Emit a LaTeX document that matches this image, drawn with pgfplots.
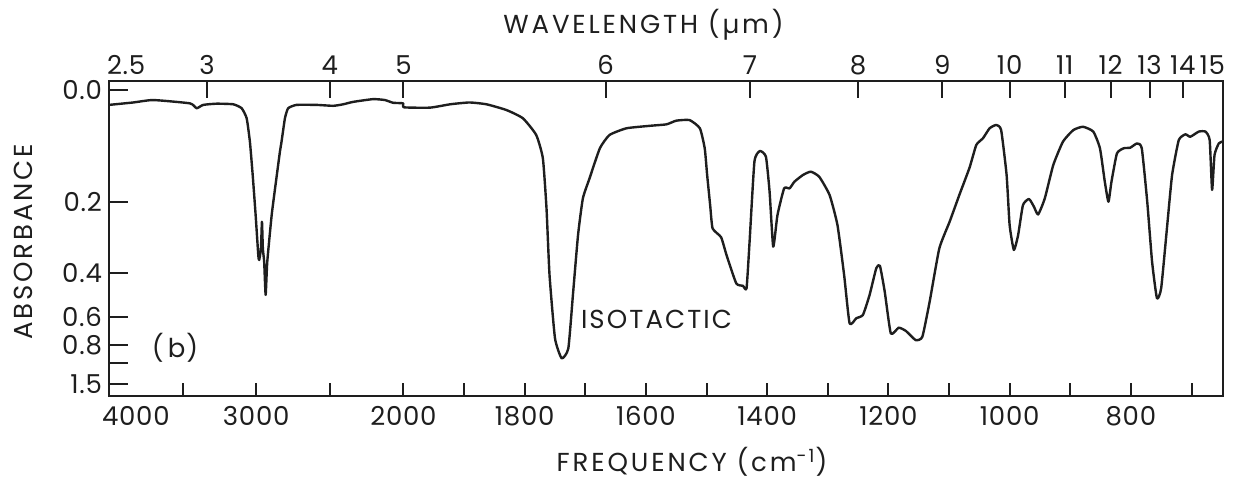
\documentclass[border=0pt]{standalone}
\usepackage{pgfplots}
\pgfplotsset{compat=1.18}
\usepackage{pgfplotstable}
\usepackage{fontspec}
\setmainfont{Poppins}[LetterSpace=3]
\newfontfamily\widefont{Poppins}[LetterSpace=11]
\newfontfamily\midfont{Poppins}[LetterSpace=8]

% frequency (cm^-1) and transmittance T = 10^(-absorbance)
\pgfplotstableread{
nu T
4000 0.951
3835 0.959
3699 0.967
3450 0.956
3405 0.940
3360 0.951
3269 0.955
3156 0.953
3099 0.940
3065 0.907
3043 0.830
3024 0.720
3004 0.588
2986 0.456
2980 0.440
2968 0.478
2961 0.566
2955 0.478
2946 0.434
2936 0.325
2925 0.434
2895 0.588
2866 0.698
2839 0.797
2828 0.830
2805 0.907
2783 0.940
2726 0.951
2590 0.951
2477 0.948
2409 0.953
2341 0.961
2206 0.970
2126 0.967
2070 0.958
2001 0.956
1999 0.943
1956 0.942
1923 0.953
1891 0.959
1863 0.953
1830 0.934
1803 0.907
1781 0.852
1770 0.775
1764 0.610
1759 0.390
1750 0.182
1739 0.116
1728 0.149
1720 0.335
1712 0.522
1704 0.643
1693 0.709
1676 0.808
1660 0.852
1632 0.874
1594 0.882
1566 0.887
1550 0.899
1528 0.901
1511 0.874
1503 0.808
1499 0.720
1494 0.620
1490 0.544
1476 0.515
1467 0.456
1451 0.363
1440 0.355
1434 0.347
1429 0.500
1421 0.764
1412 0.799
1402 0.780
1396 0.665
1390 0.484
1383 0.588
1372 0.676
1363 0.676
1355 0.698
1341 0.720
1328 0.731
1314 0.714
1297 0.654
1284 0.555
1273 0.390
1264 0.231
1253 0.248
1242 0.259
1231 0.325
1220 0.413
1214 0.421
1206 0.335
1196 0.198
1183 0.217
1171 0.206
1155 0.176
1144 0.187
1132 0.302
1116 0.478
1099 0.566
1083 0.654
1066 0.745
1055 0.819
1044 0.841
1033 0.874
1022 0.885
1014 0.868
1005 0.720
1000 0.555
993 0.473
986 0.522
978 0.621
968 0.641
960 0.616
953 0.590
942 0.643
928 0.753
912 0.830
895 0.868
879 0.879
862 0.863
851 0.808
843 0.698
837 0.632
832 0.698
823 0.791
812 0.808
801 0.810
790 0.824
782 0.808
773 0.632
765 0.434
757 0.314
750 0.347
740 0.555
732 0.720
721 0.835
710 0.854
702 0.846
688 0.863
677 0.863
670 0.835
666 0.671
662 0.786
655 0.824
649 0.830
}\spectrum

\definecolor{ink}{HTML}{1E1E1E}

\begin{document}
\begin{tikzpicture}[font=\fontsize{13}{15}\selectfont]
\path[use as bounding box] (0,0) rectangle (617pt,-239.5pt);

% bottom axis: frequency, absorbance scale (linear in transmittance)
\begin{axis}[
  at={(54.5pt,-198pt)}, anchor=south west,
  scale only axis, width=557pt, height=157.5pt,
  x coord trafo/.code={\pgfmathparse{(#1>=2000)*(4000-#1)*0.1473+(#1<2000)*(294.6+(2000-#1)*0.6065)}},
  xmin=4000, xmax=648,
  ymin=-0.0082, ymax=1.0297,
  axis line style={line width=1pt, draw=ink},
  xtick={4000,3500,3000,2500,2000,1900,1800,1700,1600,1500,1400,1300,1200,1100,1000,900,800,700},
  xticklabels={\makebox[0pt][l]{\kern-3.5pt 4000},,3000,,2000,,1800,,1600,,1400,,1200,,1000,,800,},
  xtick pos=left, xticklabel pos=left,
  ytick={0.0316,0.1,0.1585,0.2512,0.3981,0.631,1},
  yticklabels={1.5,,0.8,0.6,0.4,0.2,0.0},
  ytick pos=left,
  tick align=inside,
  major tick length=6.5pt,
  ytick style={/pgfplots/major tick length=9.5pt},
  tick style={line width=1pt, draw=ink},
  xticklabel style={anchor=base, yshift=-14.75pt, text=ink},
  yticklabel style={anchor=east, text=ink},
  ticklabel style={font=\fontsize{13}{15}\selectfont},
]
\addplot[line width=1.2pt, draw=ink, smooth, tension=0.3, line join=round] table[x=nu,y=T] {\spectrum};
\end{axis}

% top axis: wavelength in micrometres
\begin{axis}[
  at={(54.5pt,-198pt)}, anchor=south west,
  scale only axis, width=557pt, height=157.5pt,
  x coord trafo/.code={\pgfmathparse{(#1>=2000)*(4000-#1)*0.1473+(#1<2000)*(294.6+(2000-#1)*0.6065)}},
  xmin=4000, xmax=648,
  ymin=-0.0082, ymax=1.0297,
  axis line style={draw=none},
  ytick=\empty,
  xtick={4000,3333.33,2500,2000,1666.67,1428.57,1250,1111.11,1000,909.09,833.33,769.23,714.29,648},
  xticklabels={\makebox[0pt][l]{\kern-1pt 2.5},3,4,5,6,7,8,9,10,11,12,13,14,\makebox[0pt][r]{15\kern-1pt}},
  xtick pos=right, xticklabel pos=right,
  tick align=inside,
  major tick length=8.5pt,
  tick style={line width=1pt, draw=ink},
  xticklabel style={anchor=base, yshift=3.25pt, text=ink},
  ticklabel style={font=\fontsize{13}{15}\selectfont},
]
\end{axis}

\node[rotate=90, text=ink] at (11.5pt,-121pt) {\widefont ABSORBANCE};
\node[anchor=base, text=ink] at (321.75pt,-16.5pt) {\widefont WAVELENGTH (µm)};
\node[anchor=base, text=ink] at (346pt,-235.6pt) {\widefont FREQUENCY (cm\textsuperscript{-1})};
\node[text=ink] at (87.5pt,-174pt) {(\,b)};
\node[anchor=base, text=ink] at (328.25pt,-164pt) {\midfont ISOTACTIC};
\end{tikzpicture}
\end{document}
